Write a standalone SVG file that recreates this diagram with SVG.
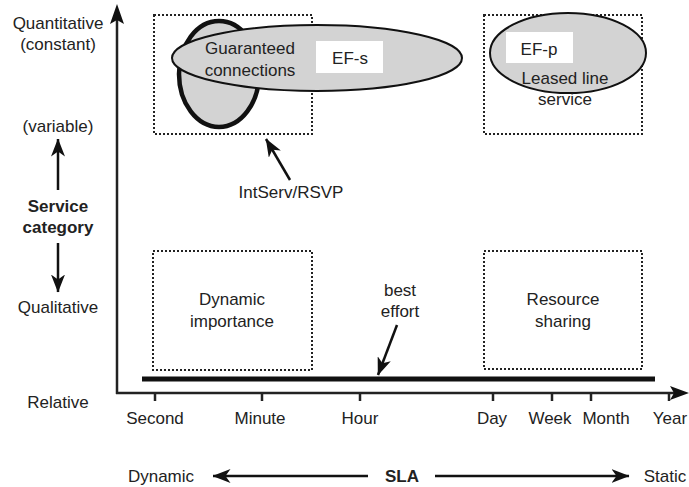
<svg xmlns="http://www.w3.org/2000/svg" width="689" height="487" viewBox="0 0 689 487">
<style>
text{font-family:"Liberation Sans",Arial,sans-serif;font-size:17px;fill:#222;text-anchor:middle}
.b{font-weight:bold}
.dot{fill:none;stroke:#222;stroke-width:2;stroke-dasharray:2 2}
.ax{stroke:#222;stroke-width:2.5;fill:none}
.ln{stroke:#111;stroke-width:2.5;fill:none}
.head{fill:#111}
.tick{stroke:#222;stroke-width:2.5}
</style>
<defs>
<marker id="ah" viewBox="0 0 18 14" refX="17.5" refY="7" markerWidth="18" markerHeight="14" orient="auto" markerUnits="userSpaceOnUse">
<path d="M0,0 L18,7 L0,14 L5,7 Z" fill="#111"/>
</marker>
</defs>

<g id="guaranteed-box"><rect class="dot" x="154" y="15" width="158" height="119"/></g>
<g id="leased-box"><rect class="dot" x="484" y="15" width="158" height="119"/></g>
<g id="dynamic-importance"><rect class="dot" x="153" y="251" width="159" height="119"/>
<text x="232" y="305">Dynamic</text><text x="232" y="327">importance</text></g>
<g id="resource-sharing"><rect class="dot" x="484" y="251" width="158" height="118"/>
<text x="563" y="305">Resource</text><text x="563" y="327">sharing</text></g>

<g id="intserv-ellipse"><ellipse cx="219" cy="74" rx="40" ry="53" fill="#d3d3d3" stroke="#111" stroke-width="4.5"/></g>
<g id="ef-s"><ellipse cx="317" cy="58" rx="145" ry="33" fill="#d3d3d3" stroke="#111" stroke-width="2"/>
<text x="250" y="54">Guaranteed</text><text x="250" y="76">connections</text>
<rect x="316" y="41" width="67" height="32" fill="#fff"/><text x="350" y="64">EF-s</text></g>

<g id="ef-p"><ellipse cx="568" cy="53" rx="78" ry="40" fill="#d3d3d3" stroke="#111" stroke-width="2"/>
<rect x="506" y="32" width="67" height="31" fill="#fff"/><text x="539" y="55">EF-p</text>
<text x="565" y="84">Leased line</text><text x="565" y="105">service</text></g>

<g id="best-effort-bar"><line x1="142" y1="379" x2="655" y2="379" stroke="#111" stroke-width="5"/></g>

<g id="axes">
<line class="ax" x1="117" y1="394" x2="117" y2="20"/>
<path class="head" d="M117,4 L124,24 L117,20 L110,24 Z"/>
<line class="ax" x1="116" y1="393" x2="676" y2="393"/>
<path class="head" d="M689,393 L670,400 L674,393 L670,386 Z"/>
<line class="tick" x1="155" y1="393" x2="155" y2="401"/>
<line class="tick" x1="262" y1="393" x2="262" y2="401"/>
<line class="tick" x1="360" y1="393" x2="360" y2="401"/>
<line class="tick" x1="493" y1="393" x2="493" y2="401"/>
<line class="tick" x1="552" y1="393" x2="552" y2="401"/>
<line class="tick" x1="591" y1="393" x2="591" y2="401"/>
<line class="tick" x1="669" y1="393" x2="669" y2="401"/>
</g>

<g id="tick-labels">
<text x="155" y="424">Second</text>
<text x="260" y="424">Minute</text>
<text x="360" y="424">Hour</text>
<text x="492" y="424">Day</text>
<text x="550" y="424">Week</text>
<text x="606" y="424">Month</text>
<text x="670" y="424">Year</text>
</g>

<g id="y-labels">
<text x="58" y="29">Quantitative</text>
<text x="58" y="50">(constant)</text>
<text x="58" y="132">(variable)</text>
<text class="b" x="58" y="212">Service</text>
<text class="b" x="58" y="233">category</text>
<text x="58" y="313">Qualitative</text>
<text x="58" y="408">Relative</text>
</g>

<g id="connectors">
<line class="ln" x1="58" y1="190" x2="58" y2="139" marker-end="url(#ah)"/>
<line class="ln" x1="58" y1="243" x2="58" y2="292" marker-end="url(#ah)"/>
<line class="ln" x1="290" y1="180" x2="266" y2="139" marker-end="url(#ah)"/>
<line class="ln" x1="397" y1="325" x2="378" y2="375" marker-end="url(#ah)"/>
<line class="ln" x1="368" y1="476" x2="213" y2="476" marker-end="url(#ah)"/>
<line class="ln" x1="435" y1="476" x2="629" y2="476" marker-end="url(#ah)"/>
</g>

<g id="labels">
<text x="291" y="198">IntServ/RSVP</text>
<text x="400" y="296">best</text>
<text x="400" y="317">effort</text>
<text x="161" y="482">Dynamic</text>
<text class="b" x="402" y="482">SLA</text>
<text x="665" y="482">Static</text>
</g>
</svg>
